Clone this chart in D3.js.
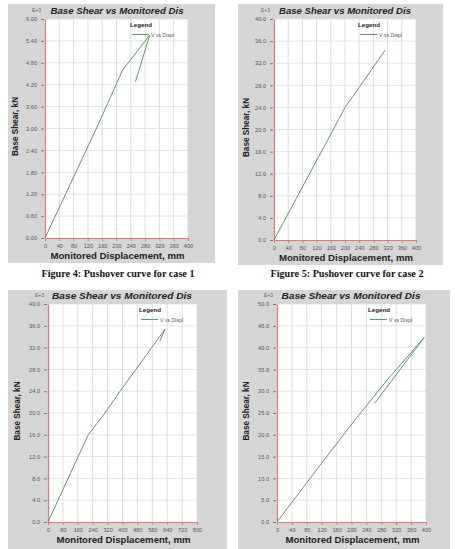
<!DOCTYPE html>
<html>
<head>
<meta charset="utf-8">
<script src="https://cdn.jsdelivr.net/npm/d3@7"></script>
<style>
  body { margin: 0; background: #fff; }
  svg { display: block; }
</style>
</head>
<body>
<div id="chart"></div>
<script>
// values, shear in E+3 kN, displacement in mm
var case1Disp  = [0, 146, 217, 293, 253];
var case1Shear = [0, 3.05, 4.6, 5.56, 4.28];

var case2Disp  = [0, 167, 200, 244, 313];
var case2Shear = [0, 20, 24, 28, 34.35];

var case3Disp  = [0, 216, 306, 387, 472, 557, 629, 600];
var case3Shear = [0, 16, 20, 24, 28, 32, 35.4, 33.2];

var case4Disp  = [0, 120, 209, 300, 395, 262];
var case4Shear = [0, 13.5, 23.4, 33.0, 42.3, 27.2];

// tick labels
var xTicks400 = [0, 40, 80, 120, 160, 200, 240, 280, 320, 360, 400];
var xTicks800 = [0, 80, 160, 240, 320, 400, 480, 560, 640, 720, 800];
var yTicks1 = [0, 0.6, 1.2, 1.8, 2.4, 3.0, 3.6, 4.2, 4.8, 5.4, 6.0];
var yTicks40 = [0, 4, 8, 12, 16, 20, 24, 28, 32, 36, 40];
var yTicks50 = [0, 5, 10, 15, 20, 25, 30, 35, 40, 45, 50];

var captions = ["Figure 4: Pushover curve for case 1", "Figure 5: Pushover curve for case 2"];

var svg = d3.select("#chart").append("svg")
  .attr("width", 455)
  .attr("height", 549);

function drawPanel(p) {
  var g = svg.append("g");

  // grey frame
  g.append("rect")
    .attr("x", p.box[0]).attr("y", p.box[1])
    .attr("width", p.box[2] - p.box[0]).attr("height", p.box[3] - p.box[1])
    .attr("fill", "#d5d5d5");

  var x = d3.scaleLinear().domain([p.xTicks[0], p.xTicks[p.xTicks.length - 1]]).range([p.left, p.right]);
  var y = d3.scaleLinear().domain([p.yTicks[0], p.yTicks[p.yTicks.length - 1]]).range([p.bottom, p.top]);

  g.append("rect")
    .attr("x", p.left).attr("y", p.top)
    .attr("width", p.right - p.left).attr("height", p.bottom - p.top)
    .attr("fill", "#fff");

  // grid
  g.selectAll(".vg").data(p.xTicks.slice(1)).enter().append("line")
    .attr("x1", d => x(d)).attr("x2", d => x(d))
    .attr("y1", p.top).attr("y2", p.bottom)
    .attr("stroke", "#d4d4d4").attr("stroke-width", 0.8);
  g.selectAll(".hg").data(p.yTicks.slice(1)).enter().append("line")
    .attr("x1", p.left).attr("x2", p.right)
    .attr("y1", d => y(d)).attr("y2", d => y(d))
    .attr("stroke", "#dedede").attr("stroke-width", 0.8);

  // axes
  var xAxis = g.append("g")
    .attr("transform", `translate(0, ${p.bottom})`)
    .call(d3.axisBottom(x).tickValues(p.xTicks).tickSize(3).tickSizeOuter(0).tickFormat(d3.format("d")));
  xAxis.select(".domain").attr("stroke", "#e07878").attr("stroke-width", 1.2);
  xAxis.selectAll(".tick line").attr("stroke", "#e07878");
  xAxis.selectAll(".tick text")
    .attr("y", 6).attr("dy", "0.71em")
    .attr("fill", "#555").style("font", "5.6px 'Liberation Sans', Arial, sans-serif");

  var yAxis = g.append("g")
    .attr("transform", `translate(${p.left}, 0)`)
    .call(d3.axisLeft(y).tickValues(p.yTicks).tickSize(3).tickSizeOuter(0).tickFormat(d3.format(p.yFormat)));
  yAxis.select(".domain").attr("stroke", "#e07878").attr("stroke-width", 1.2);
  yAxis.selectAll(".tick line").attr("stroke", "#777").attr("x2", -4).attr("x1", -1);
  yAxis.selectAll(".tick text")
    .attr("x", -8)
    .attr("fill", "#555").style("font", "5.6px 'Liberation Sans', Arial, sans-serif");

  // curve
  var pts = p.disp.map((d, i) => [d, p.shear[i]]);
  g.append("path")
    .datum(pts)
    .attr("d", d3.line().x(d => x(d[0])).y(d => y(d[1])))
    .attr("fill", "none")
    .attr("stroke", "#4f8a5c")
    .attr("stroke-width", 0.9);

  // title and exponent
  g.append("text")
    .attr("x", p.titleX).attr("y", p.top - 5)
    .attr("text-anchor", "middle")
    .attr("textLength", p.titleW).attr("lengthAdjust", "spacingAndGlyphs")
    .style("font", "italic bold 8.5px 'Liberation Sans', Arial, sans-serif")
    .attr("fill", "#222")
    .text("Base Shear vs Monitored Dis");
  g.append("text")
    .attr("x", p.left - 13).attr("y", p.top - 7)
    .style("font", "5px 'Liberation Sans', Arial, sans-serif")
    .attr("fill", "#666")
    .text("E+3");

  // axis titles
  g.append("text")
    .attr("transform", `translate(${p.yLabelX}, ${(p.top + p.bottom) / 2 - 2}) rotate(-90)`)
    .attr("text-anchor", "middle")
    .style("font", "bold 8.2px 'Liberation Sans', Arial, sans-serif")
    .attr("fill", "#222")
    .text("Base Shear, kN");
  g.append("text")
    .attr("x", (p.left + p.right) / 2 + 1).attr("y", p.bottom + 21)
    .attr("text-anchor", "middle")
    .attr("textLength", 134).attr("lengthAdjust", "spacingAndGlyphs")
    .style("font", "bold 8.4px 'Liberation Sans', Arial, sans-serif")
    .attr("fill", "#222")
    .text("Monitored Displacement, mm");

  // legend
  var lx = p.right - 58;
  g.append("text")
    .attr("x", lx).attr("y", p.top + 8)
    .style("font", "bold 6.2px 'Liberation Sans', Arial, sans-serif")
    .attr("fill", "#222")
    .text("Legend");
  g.append("line")
    .attr("x1", lx + 2).attr("x2", lx + 19)
    .attr("y1", p.top + 15.5).attr("y2", p.top + 15.5)
    .attr("stroke", "#4f8a5c").attr("stroke-width", 0.9);
  g.append("text")
    .attr("x", lx + 21).attr("y", p.top + 17.5)
    .style("font", "5.2px 'Liberation Sans', Arial, sans-serif")
    .attr("fill", "#555")
    .text("V vs Displ");
}

drawPanel({ box: [8, 4, 215, 263], left: 45, right: 188, top: 19, bottom: 238,
  xTicks: xTicks400, yTicks: yTicks1, yFormat: ".2f",
  disp: case1Disp, shear: case1Shear, titleX: 117, titleW: 133, yLabelX: 18 });
drawPanel({ box: [238, 4, 443, 265], left: 274, right: 416, top: 19, bottom: 240,
  xTicks: xTicks400, yTicks: yTicks40, yFormat: ".1f",
  disp: case2Disp, shear: case2Shear, titleX: 345, titleW: 132, yLabelX: 249 });
drawPanel({ box: [8, 290, 227, 549], left: 48, right: 197, top: 304, bottom: 522,
  xTicks: xTicks800, yTicks: yTicks40, yFormat: ".1f",
  disp: case3Disp, shear: case3Shear, titleX: 122, titleW: 140, yLabelX: 20 });
drawPanel({ box: [238, 290, 450, 549], left: 277, right: 426, top: 304, bottom: 522,
  xTicks: xTicks400, yTicks: yTicks50, yFormat: ".1f",
  disp: case4Disp, shear: case4Shear, titleX: 351, titleW: 139, yLabelX: 249 });

// figure captions
svg.selectAll(".caption").data(captions).enter().append("text")
  .attr("x", (d, i) => i === 0 ? 118 : 347)
  .attr("y", 277)
  .attr("text-anchor", "middle")
  .attr("textLength", 153).attr("lengthAdjust", "spacingAndGlyphs")
  .style("font", "bold 10px 'Liberation Serif', 'Times New Roman', serif")
  .attr("fill", "#111")
  .text(d => d);
</script>
</body>
</html>
